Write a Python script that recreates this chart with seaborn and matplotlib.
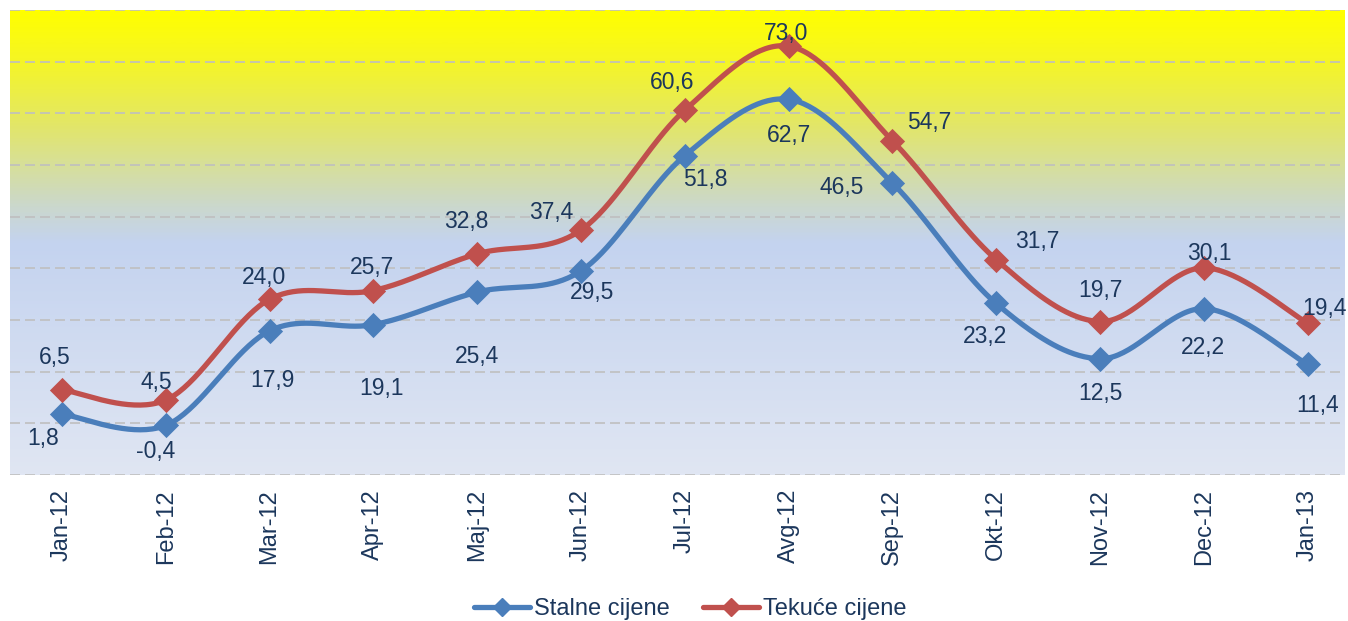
import numpy as np
import pandas as pd
import matplotlib
matplotlib.use("Agg")
import matplotlib.pyplot as plt
from matplotlib.colors import LinearSegmentedColormap
from matplotlib.lines import Line2D
import seaborn as sns

# ---- data ----
months = ["Jan-12", "Feb-12", "Mar-12", "Apr-12", "Maj-12", "Jun-12", "Jul-12",
          "Avg-12", "Sep-12", "Okt-12", "Nov-12", "Dec-12", "Jan-13"]
stalne = [1.8, -0.4, 17.9, 19.1, 25.4, 29.5, 51.8, 62.7, 46.5, 23.2, 12.5, 22.2, 11.4]
tekuce = [6.5, 4.5, 24.0, 25.7, 32.8, 37.4, 60.6, 73.0, 54.7, 31.7, 19.7, 30.1, 19.4]
series_names = ["Stalne cijene", "Tekuće cijene"]

# label offsets in pixels (layout only)
off_stalne = [(-19, -24), (-10, -26), (3, -50), (8, -64), (0, -64), (11, -22), (21, -24),
              (0, -36), (-51, -4), (-11, -33), (0, -35), (-1, -39), (10, -41)]
off_tekuce = [(-7, 32), (-9, 18), (-6, 22), (-1, 23), (-11, 32), (-30, 18), (-13, 28),
              (-3, 13), (37, 18), (41, 18), (0, 31), (6, 14), (17, 15)]

BLUE = "#4a7ebb"
RED = "#c0504d"
TXT = "#1c375c"

sns.set_theme(style="white")
plt.rcParams["font.family"] = ["Liberation Sans", "DejaVu Sans"]

fig = plt.figure(figsize=(13.48, 6.21), dpi=100)
ax = fig.add_axes([10 / 1348, 1 - 475 / 621, 1335 / 1348, 465 / 621])

# gradient background
cmap = LinearSegmentedColormap.from_list(
    "bg", [(0.0, "#e0e6f3"), (0.50, "#c4d3ef"), (0.58, "#cbd8cc"),
           (0.75, "#e2e66a"), (0.90, "#f6f622"), (1.0, "#ffff00")])
grad = np.linspace(0, 1, 400).reshape(-1, 1)
ax.imshow(grad, cmap=cmap, origin="lower", aspect="auto",
          extent=[0, 1, 0, 1], transform=ax.transAxes, zorder=0)


def smooth(xs, ys, n=40):
    xs = np.asarray(xs, float)
    ys = np.asarray(ys, float)
    px, py = [], []
    m = len(xs)
    for i in range(m - 1):
        i0 = max(i - 1, 0)
        i3 = min(i + 2, m - 1)
        p0 = np.array([xs[i], ys[i]])
        p3 = np.array([xs[i + 1], ys[i + 1]])
        c1 = p0 + (np.array([xs[i + 1], ys[i + 1]]) - np.array([xs[i0], ys[i0]])) / 6
        c2 = p3 - (np.array([xs[i3], ys[i3]]) - np.array([xs[i], ys[i]])) / 6
        t = np.linspace(0, 1, n, endpoint=(i == m - 2))[:, None]
        pts = ((1 - t) ** 3) * p0 + 3 * ((1 - t) ** 2) * t * c1 + 3 * (1 - t) * t ** 2 * c2 + t ** 3 * p3
        px.extend(pts[:, 0])
        py.extend(pts[:, 1])
    return np.array(px), np.array(py)


xpos = np.arange(len(months))
for vals, col, name, offs in [(stalne, BLUE, series_names[0], off_stalne),
                               (tekuce, RED, series_names[1], off_tekuce)]:
    sx, sy = smooth(xpos, vals)
    df = pd.DataFrame({"x": sx, "y": sy})
    sns.lineplot(data=df, x="x", y="y", ax=ax, color=col, linewidth=3.8,
                 sort=False, zorder=3, legend=False)
    pdf = pd.DataFrame({"x": xpos, "y": vals})
    sns.scatterplot(data=pdf, x="x", y="y", ax=ax, color=col, marker="D",
                    s=165, linewidth=0, zorder=4, legend=False)
    for xi, v, (dx, dy) in zip(xpos, vals, offs):
        ax.annotate(f"{v:.1f}".replace(".", ","), (xi, v), xytext=(dx, dy),
                    textcoords="offset pixels", ha="center", va="center",
                    fontsize=16.5, color=TXT, zorder=5)

ax.set_xlim(-0.5, 12.36)
ax.set_ylim(-10, 80)
ax.set_yticks(np.arange(-10, 81, 10))
ax.set_yticklabels([])
ax.yaxis.grid(True, color="#bfbfbf", linestyle=(0, (6, 3)), linewidth=1.2, zorder=1)
ax.xaxis.grid(False)
ax.set_axisbelow(False)
ax.set_xticks(xpos)
ax.set_xticklabels(months, rotation=90, fontsize=17, color=TXT)
ax.tick_params(axis="x", length=0, pad=10)
ax.tick_params(axis="y", length=0)
ax.set_xlabel("")
ax.set_ylabel("")
for s in ax.spines.values():
    s.set_visible(False)

handles = [Line2D([0], [0], color=BLUE, lw=3.8, marker="D", markersize=9),
           Line2D([0], [0], color=RED, lw=3.8, marker="D", markersize=9)]
leg = fig.legend(handles, series_names, loc="center",
                 bbox_to_anchor=(0.5 + 16 / 1348, 1 - 609 / 621),
                 ncol=2, frameon=False, fontsize=17, handlelength=2.4,
                 handletextpad=0.15, columnspacing=1.4)
for t in leg.get_texts():
    t.set_color(TXT)

fig.savefig("out.png", dpi=100)
